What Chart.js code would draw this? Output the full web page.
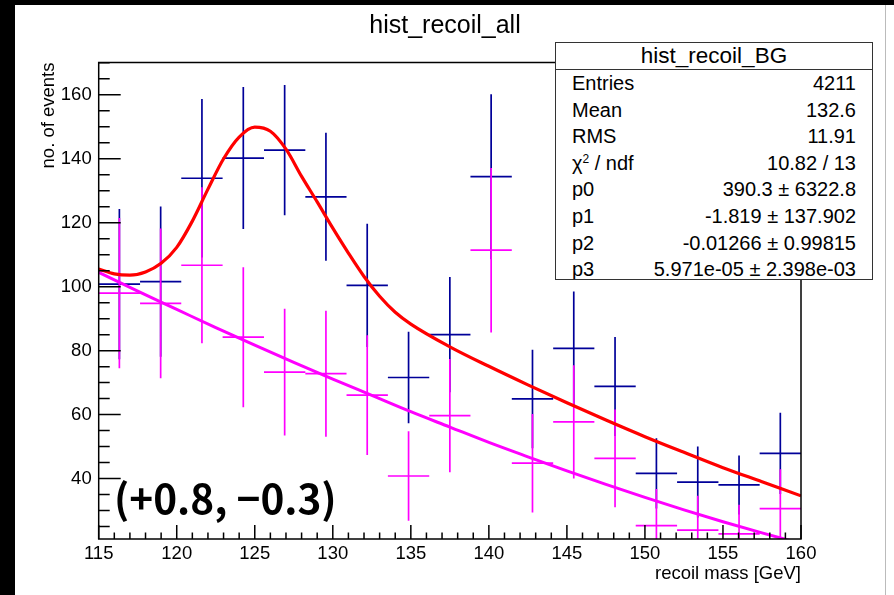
<!DOCTYPE html>
<html>
<head>
<meta charset="utf-8">
<script src="https://cdn.jsdelivr.net/npm/chart.js@4"></script>
<style>
  html, body { margin: 0; padding: 0; background: #000; }
  body { width: 894px; height: 595px; overflow: hidden; position: relative; }
  #pad {
    position: absolute; left: 15px; top: 5px; width: 879px; height: 590px;
    background: #fff; font-family: "Liberation Sans", Arial, sans-serif; color: #000;
  }
  #plot { position: absolute; left: 0; top: 0; }
  #title {
    position: absolute; left: 280px; top: 4px; width: 300px; text-align: center;
    font-size: 25px; line-height: 30px;
  }
  #stats {
    position: absolute; left: 540px; top: 37px; width: 318px; height: 238px;
    box-sizing: border-box; border: 1.5px solid #333; background: #fff; overflow: hidden;
  }
  #stats .head {
    height: 26px; line-height: 26px; text-align: center; font-size: 22.5px;
    border-bottom: 1.5px solid #333;
  }
  #stats .row {
    display: flex; justify-content: space-between; height: 26.6px; line-height: 26.6px;
    font-size: 20px; padding: 0 16px 0 16px;
  }
  #stats sup { font-size: 12px; line-height: 0; vertical-align: 0.6em; }
  #note {
    position: absolute; left: 99px; top: 462px; font-family: "Noto Sans CJK JP", sans-serif;
    font-weight: bold; font-size: 40.5px; line-height: 60px; white-space: nowrap;
  }
  #edge { position: absolute; left: 870px; top: 0; width: 1px; height: 590px; background: #bbb; }
</style>
</head>
<body>
<div id="pad">
  <canvas id="plot" width="879" height="590"></canvas>
  <div id="title">hist_recoil_all</div>
  <div id="stats">
    <div class="head">hist_recoil_BG</div>
    <div class="row"><span>Entries</span><span>4211</span></div>
    <div class="row"><span>Mean</span><span>132.6</span></div>
    <div class="row"><span>RMS</span><span>11.91</span></div>
    <div class="row"><span>&chi;<sup>2</sup> / ndf</span><span>10.82 / 13</span></div>
    <div class="row"><span>p0</span><span>390.3 &plusmn; 6322.8</span></div>
    <div class="row"><span>p1</span><span>-1.819 &plusmn; 137.902</span></div>
    <div class="row"><span>p2</span><span>-0.01266 &plusmn; 0.99815</span></div>
    <div class="row"><span>p3</span><span>5.971e-05 &plusmn; 2.398e-03</span></div>
  </div>
  <div id="note">(+0.8, &minus;0.3)</div>
  <div id="edge"></div>
</div>
<script>
// 17 bins of recoil mass, 115-160 GeV
const binEdges = [115, 117.65, 120.29, 122.94, 125.59, 128.24, 130.88, 133.53, 136.18,
  138.82, 141.47, 144.12, 146.76, 149.41, 152.06, 154.71, 157.35, 160];

// hist_recoil_all (signal + background)
const allCounts = [100.8, 101.6, 133.9, 140.2, 142.7, 128.1, 100.4, 71.6, 85.0,
  134.4, 64.9, 80.7, 68.8, 41.6, 38.9, 38.0, 47.9];
const allErrors = [23.5, 23.5, 24.8, 22.2, 20.4, 20.0, 19.3, 14.3, 18.0,
  25.8, 15.4, 17.8, 15.5, 11.0, 11.1, 9.2, 12.7];

// hist_recoil_BG
const bgCounts = [98.0, 94.8, 106.7, 84.2, 73.3, 72.8, 66.1, 40.8, 59.7,
  111.4, 44.8, 57.7, 46.3, 25.3, 23.9, 22.7, 30.6];
const bgErrors = [23.5, 23.4, 24.4, 21.9, 19.8, 19.7, 18.7, 14.0, 17.7,
  25.7, 15.4, 17.7, 15.3, 11.4, 10.7, 9.1, 12.3];

// signal + background fit curve
const sigFitX = [115, 116, 117, 118, 119, 120, 121, 122, 123, 124, 125, 126, 127, 128, 129,
  130, 131, 132, 133, 134, 135, 137.5, 140, 142.5, 145, 147.5, 150, 152.5, 155, 157.5, 160];
const sigFitY = [105.5, 104.0, 103.6, 104.6, 107.3, 112.3, 120.5, 130.5, 140.0, 146.8, 149.9,
  148.6, 143.0, 134.5, 126.5, 118.3, 110.5, 103.2, 97.0, 92.0, 88.3, 81.2, 75.1, 69.3,
  63.7, 58.3, 53.1, 48.2, 43.4, 39.0, 34.6];

// background fit curve (pol3)
const bgFitX = [115, 117.5, 120, 122.5, 125, 127.5, 130, 132.5, 135, 137.5, 140,
  142.5, 145, 147.5, 150, 152.5, 155, 157.5, 160];
const bgFitY = [104.5, 98.6, 92.9, 87.2, 81.7, 76.3, 71.1, 66.0, 60.9, 56.1, 51.3,
  46.8, 42.4, 38.2, 34.1, 30.2, 26.5, 23.0, 19.7];

const xMajorTicks = [115, 120, 125, 130, 135, 140, 145, 150, 155, 160];
const yMajorTicks = [40, 60, 80, 100, 120, 140, 160];
const xRange = [115, 160];
const yRange = [21.1, 170.1];

// one polyline per histogram: horizontal bin width + vertical error, gaps between
function errorBarPoints(counts, errors) {
  const pts = [];
  counts.forEach((v, i) => {
    const lo = binEdges[i], hi = binEdges[i + 1], mid = (lo + hi) / 2;
    pts.push({ x: lo, y: v }, { x: hi, y: v }, { x: mid, y: null });
    pts.push({ x: mid, y: v - errors[i] }, { x: mid, y: v + errors[i] }, { x: mid, y: null });
  });
  return pts;
}

function curvePoints(xs, ys) {
  return xs.map((x, i) => ({ x, y: ys[i] }));
}

function tickList(lo, hi, step) {
  const out = [];
  for (let v = Math.ceil(lo / step) * step; v <= hi + 1e-9; v += step) out.push({ value: v });
  return out;
}

// ROOT-style frame: box all round, ticks pointing inward on left and bottom
const frameTicks = {
  id: "frameTicks",
  afterDatasetsDraw(chart) {
    const { ctx, chartArea: a, scales: { x, y } } = chart;
    ctx.save();
    ctx.strokeStyle = "#000";
    ctx.lineWidth = 1.5;
    ctx.beginPath();
    x.ticks.forEach((t) => {
      const px = x.getPixelForValue(t.value);
      const len = xMajorTicks.includes(t.value) ? 14 : 6.5;
      ctx.moveTo(px, a.bottom);
      ctx.lineTo(px, a.bottom - len);
    });
    y.ticks.forEach((t) => {
      const py = y.getPixelForValue(t.value);
      const len = yMajorTicks.includes(t.value) ? 22 : 11;
      ctx.moveTo(a.left, py);
      ctx.lineTo(a.left + len, py);
    });
    ctx.stroke();
    ctx.strokeRect(a.left, a.top, a.width, a.height);
    ctx.restore();
  },
};

Chart.defaults.font.family = "'Liberation Sans', Arial, sans-serif";
Chart.defaults.color = "#000";

new Chart(document.getElementById("plot"), {
  type: "line",
  data: {
    datasets: [
      {
        label: "bg fit",
        data: curvePoints(bgFitX, bgFitY),
        borderColor: "#ff00ff",
        borderWidth: 3,
        pointRadius: 0,
        cubicInterpolationMode: "monotone",
      },
      {
        label: "sig+bg fit",
        data: curvePoints(sigFitX, sigFitY),
        borderColor: "#ff0000",
        borderWidth: 3.2,
        pointRadius: 0,
        cubicInterpolationMode: "monotone",
      },
      {
        label: "hist_recoil_BG",
        data: errorBarPoints(bgCounts, bgErrors),
        borderColor: "#ff00ff",
        borderWidth: 1.7,
        pointRadius: 0,
        spanGaps: false,
      },
      {
        label: "hist_recoil_all",
        data: errorBarPoints(allCounts, allErrors),
        borderColor: "#000099",
        borderWidth: 1.7,
        pointRadius: 0,
        spanGaps: false,
      },
    ],
  },
  options: {
    responsive: false,
    animation: false,
    layout: { padding: { left: 0, right: 93, top: 57.5, bottom: 9.2 } },
    plugins: { legend: { display: false }, tooltip: { enabled: false } },
    scales: {
      x: {
        type: "linear",
        min: xRange[0],
        max: xRange[1],
        afterBuildTicks: (s) => { s.ticks = tickList(xRange[0], xRange[1], 1); },
        afterFit: (s) => { s.height = 46.8; },
        grid: { display: false },
        border: { display: false },
        ticks: {
          autoSkip: false,
          maxRotation: 0,
          padding: -4,
          font: { size: 18.5 },
          callback: (v) => (xMajorTicks.includes(v) ? String(v) : ""),
        },
        title: {
          display: true,
          text: "recoil mass [GeV]",
          align: "end",
          font: { size: 18.5 },
          padding: { top: 0, bottom: 1 },
        },
      },
      y: {
        type: "linear",
        min: yRange[0],
        max: yRange[1],
        afterBuildTicks: (s) => { s.ticks = tickList(yRange[0], yRange[1], 5); },
        afterFit: (s) => { s.width = 83.7; },
        grid: { display: false },
        border: { display: false },
        ticks: {
          autoSkip: false,
          padding: -1,
          font: { size: 18.5 },
          callback: (v) => (yMajorTicks.includes(v) ? String(v) : ""),
        },
        title: {
          display: true,
          text: "no. of events",
          align: "end",
          font: { size: 18.5 },
          padding: { top: 23, bottom: 0 },
        },
      },
    },
  },
  plugins: [frameTicks],
});
</script>
</body>
</html>
